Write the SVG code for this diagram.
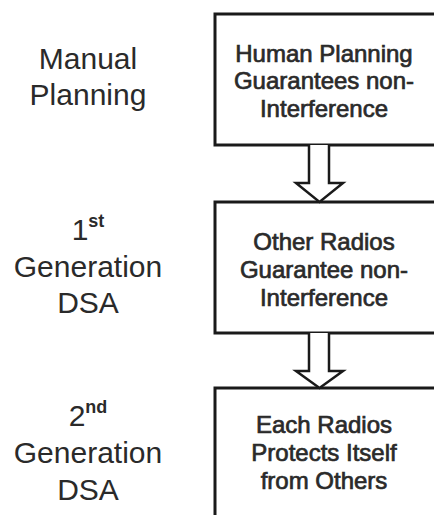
<svg xmlns="http://www.w3.org/2000/svg" width="434" height="515" viewBox="0 0 434 515">
  <style>
    .box { fill: #ffffff; stroke: #1a1a1a; stroke-width: 3; }
    .arrow { fill: #ffffff; stroke: #1a1a1a; stroke-width: 2.5; stroke-linejoin: miter; }
    .btxt { font-family: "Liberation Sans", Arial, sans-serif; font-size: 24px; fill: #2a2a2a; stroke: #2a2a2a; stroke-width: 0.7; text-anchor: middle; }
    .ltxt { font-family: "Liberation Sans", Arial, sans-serif; font-size: 30px; fill: #2a2a2a; text-anchor: middle; }
    .sup { font-size: 18px; font-weight: bold; }
  </style>
  <rect width="434" height="515" fill="#ffffff"/>

  <!-- stage labels -->
  <g id="label-manual">
    <text class="ltxt" x="88" y="69">Manual</text>
    <text class="ltxt" x="88" y="105">Planning</text>
  </g>
  <g id="label-gen1">
    <text class="ltxt" x="88" y="240">1<tspan class="sup" dy="-13">st</tspan></text>
    <text class="ltxt" x="88" y="277">Generation</text>
    <text class="ltxt" x="88" y="313">DSA</text>
  </g>
  <g id="label-gen2">
    <text class="ltxt" x="88" y="426">2<tspan class="sup" dy="-13">nd</tspan></text>
    <text class="ltxt" x="88" y="463">Generation</text>
    <text class="ltxt" x="88" y="500">DSA</text>
  </g>

  <!-- process boxes -->
  <g id="box-human">
    <rect class="box" x="215" y="14" width="230" height="131"/>
    <text class="btxt" x="324" y="62">Human Planning</text>
    <text class="btxt" x="324" y="89">Guarantees non-</text>
    <text class="btxt" x="324" y="117">Interference</text>
  </g>
  <g id="box-others">
    <rect class="box" x="215" y="202" width="230" height="131"/>
    <text class="btxt" x="324" y="250">Other Radios</text>
    <text class="btxt" x="324" y="278">Guarantee non-</text>
    <text class="btxt" x="324" y="306">Interference</text>
  </g>
  <g id="box-self">
    <rect class="box" x="215" y="388" width="230" height="140"/>
    <text class="btxt" x="324" y="433">Each Radios</text>
    <text class="btxt" x="324" y="461">Protects Itself</text>
    <text class="btxt" x="324" y="489">from Others</text>
  </g>

  <!-- block arrows between stages -->
  <g id="connectors">
    <path class="arrow" d="M309,145 V183 H296 L319.5,202 L343,183 H329 V145"/>
    <path class="arrow" d="M309,333 V371 H296 L319.5,388 L343,371 H329 V333"/>
  </g>
</svg>
